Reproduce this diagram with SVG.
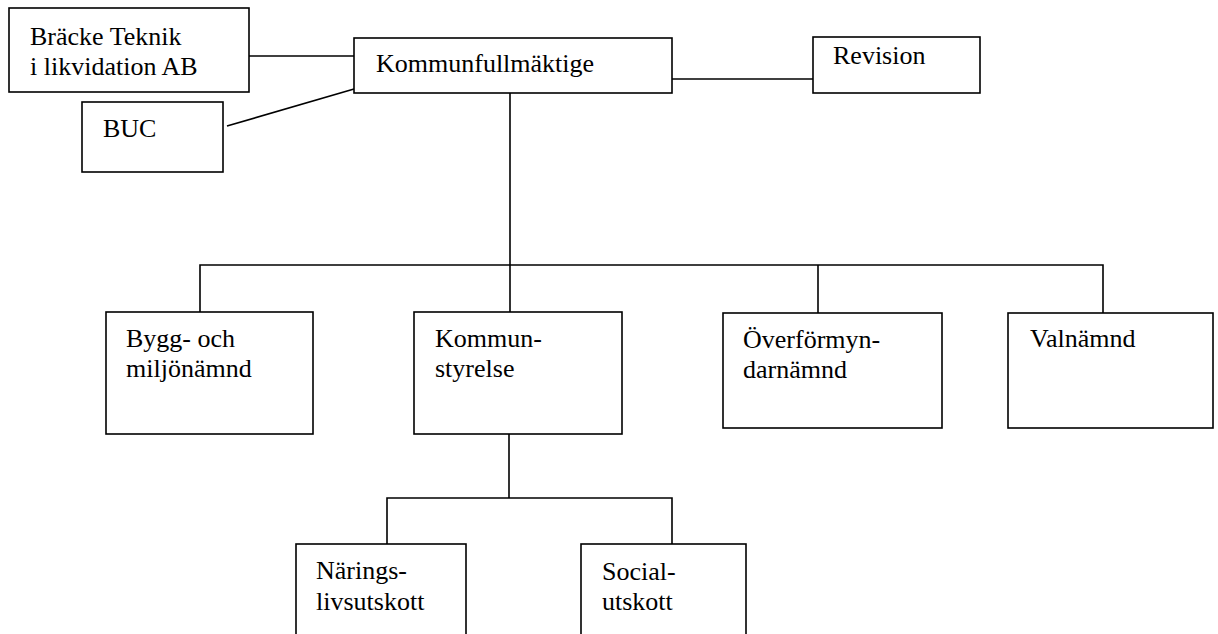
<svg xmlns="http://www.w3.org/2000/svg" width="1218" height="634" viewBox="0 0 1218 634">
<style>
.box{fill:#fff;stroke:#000;stroke-width:1.6}
.ln{fill:none;stroke:#000;stroke-width:1.6}
</style>
<rect width="1218" height="634" fill="#fff"/>
<g id="connectors">
<line class="ln" x1="249" y1="56" x2="354" y2="56"/>
<line class="ln" x1="227" y1="126" x2="354" y2="89"/>
<line class="ln" x1="672" y1="79" x2="813" y2="79"/>
<line class="ln" x1="510" y1="93" x2="510" y2="312"/>
<polyline class="ln" points="200,312 200,265 1103,265 1103,313"/>
<line class="ln" x1="818" y1="265" x2="818" y2="313"/>
<line class="ln" x1="509" y1="434" x2="509" y2="498"/>
<polyline class="ln" points="387,544 387,498 672,498 672,544"/>
</g>
<g font-family="Liberation Serif, DejaVu Serif, serif" font-size="26" fill="#000">
<g id="braecke"><rect class="box" x="9" y="8" width="240" height="84"/><text x="30" y="45">Bräcke Teknik</text><text x="30" y="75">i likvidation AB</text></g>
<g id="buc"><rect class="box" x="82" y="102" width="141" height="70"/><text x="103" y="137">BUC</text></g>
<g id="kf"><rect class="box" x="354" y="38" width="318" height="55"/><text x="376" y="72">Kommunfullmäktige</text></g>
<g id="revision"><rect class="box" x="813" y="37" width="167" height="56"/><text x="833" y="64">Revision</text></g>
<g id="bygg"><rect class="box" x="106" y="312" width="207" height="122"/><text x="126" y="347">Bygg- och</text><text x="126" y="377">miljönämnd</text></g>
<g id="ks"><rect class="box" x="414" y="312" width="208" height="122"/><text x="435" y="347">Kommun-</text><text x="435" y="377">styrelse</text></g>
<g id="overf"><rect class="box" x="723" y="313" width="219" height="115"/><text x="743" y="348">Överförmyn-</text><text x="743" y="378">darnämnd</text></g>
<g id="valn"><rect class="box" x="1008" y="313" width="205" height="115"/><text x="1030" y="347">Valnämnd</text></g>
<g id="naring"><rect class="box" x="296" y="544" width="170" height="100"/><text x="316" y="579">Närings-</text><text x="316" y="610">livsutskott</text></g>
<g id="social"><rect class="box" x="581" y="544" width="165" height="100"/><text x="602" y="580">Social-</text><text x="602" y="610">utskott</text></g>
</g>
</svg>
